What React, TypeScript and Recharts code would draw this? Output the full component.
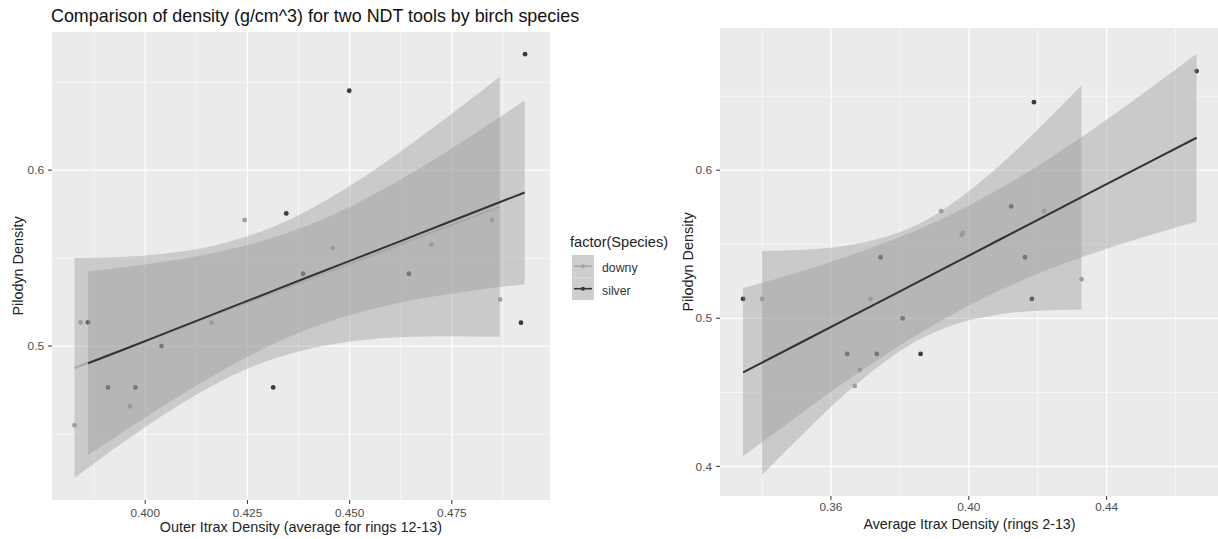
import React from 'react';
import { ComposedChart, Area, Line, Scatter, XAxis, YAxis, CartesianGrid } from 'recharts';

// ---------- Left panel: Outer Itrax density (rings 12-13) ----------
const outerDownyX = [0.3827, 0.3842, 0.3963, 0.4162, 0.4243, 0.4459, 0.47, 0.4848, 0.4868];
const outerDownyY = [0.455, 0.5135, 0.4657, 0.5133, 0.5716, 0.5557, 0.5576, 0.5716, 0.5265];
const outerSilverX = [0.386, 0.3909, 0.3976, 0.404, 0.4313, 0.4345, 0.4386, 0.4499, 0.4645, 0.4919, 0.4929];
const outerSilverY = [0.5135, 0.4765, 0.4765, 0.5, 0.4765, 0.5754, 0.5411, 0.6451, 0.5411, 0.5133, 0.6659];

const outerDownyBandX = [0.3827, 0.3949, 0.4071, 0.4192, 0.4285, 0.4375, 0.4497, 0.4618, 0.474, 0.4867];
const outerDownyFit = [0.4875, 0.4982, 0.509, 0.5197, 0.5278, 0.5357, 0.5464, 0.5573, 0.568, 0.5791];
const outerDownyUpper = [0.55, 0.5507, 0.5532, 0.5585, 0.5653, 0.5744, 0.5905, 0.6095, 0.6303, 0.653];
const outerDownyLower = [0.425, 0.4457, 0.4648, 0.4809, 0.4904, 0.4969, 0.5024, 0.505, 0.5056, 0.5053];

const outerSilverBandX = [0.386, 0.3949, 0.4071, 0.4192, 0.4314, 0.4394, 0.4497, 0.4618, 0.474, 0.4862, 0.4928];
const outerSilverFit = [0.4902, 0.4982, 0.5093, 0.5204, 0.5315, 0.5388, 0.5481, 0.5591, 0.5702, 0.5813, 0.5873];
const outerSilverUpper = [0.5424, 0.5448, 0.5488, 0.5541, 0.5617, 0.5683, 0.5788, 0.5938, 0.6109, 0.6293, 0.6396];
const outerSilverLower = [0.4379, 0.4516, 0.4699, 0.4866, 0.5013, 0.5092, 0.5174, 0.5245, 0.5295, 0.5334, 0.5351];

const outerXTicks = [0.4, 0.425, 0.45, 0.475];
const outerXMinor = [0.3875, 0.4125, 0.4375, 0.4625, 0.4875];
const outerYTicks = [0.5, 0.6];
const outerYMinor = [0.45, 0.55, 0.65];
const outerXDomain = [0.3772, 0.499];
const outerYDomain = [0.4125, 0.6785];

// ---------- Right panel: Average Itrax density (rings 2-13) ----------
const avgDownyX = [0.34, 0.3669, 0.3684, 0.3715, 0.392, 0.3979, 0.3983, 0.4218, 0.4327];
const avgDownyY = [0.5131, 0.4543, 0.4651, 0.5131, 0.5723, 0.5563, 0.5576, 0.5723, 0.5264];
const avgSilverX = [0.3345, 0.3647, 0.3733, 0.3744, 0.3808, 0.386, 0.4123, 0.4163, 0.4183, 0.4189, 0.4661];
const avgSilverY = [0.5131, 0.4759, 0.4759, 0.5412, 0.5, 0.4759, 0.5755, 0.5412, 0.5131, 0.6459, 0.6669];

const avgDownyBandX = [0.34, 0.351, 0.3655, 0.38, 0.3864, 0.3945, 0.409, 0.4235, 0.4327];
const avgDownyFit = [0.4699, 0.483, 0.5005, 0.518, 0.5257, 0.5355, 0.553, 0.5705, 0.5816];
const avgDownyUpper = [0.5455, 0.5461, 0.5494, 0.5582, 0.5649, 0.5764, 0.6034, 0.6355, 0.6573];
const avgDownyLower = [0.3942, 0.4199, 0.4517, 0.4778, 0.4866, 0.4947, 0.5027, 0.5055, 0.5059];

const avgSilverBandX = [0.3345, 0.351, 0.3655, 0.38, 0.3945, 0.4003, 0.409, 0.4235, 0.438, 0.4525, 0.4661];
const avgSilverFit = [0.4635, 0.4833, 0.5008, 0.5182, 0.5357, 0.5427, 0.5532, 0.5707, 0.5882, 0.6056, 0.6219];
const avgSilverUpper = [0.5203, 0.5314, 0.5424, 0.5549, 0.5698, 0.5765, 0.5876, 0.6081, 0.6309, 0.6551, 0.6786];
const avgSilverLower = [0.4068, 0.4352, 0.4593, 0.4816, 0.5017, 0.5089, 0.5189, 0.5332, 0.5455, 0.5561, 0.5651];

const avgXTicks = [0.36, 0.4, 0.44];
const avgXMinor = [0.34, 0.38, 0.42, 0.46];
const avgYTicks = [0.4, 0.5, 0.6];
const avgYMinor = [0.45, 0.55, 0.65];
const avgXDomain = [0.3278, 0.4726];
const avgYDomain = [0.38, 0.696];

const species = ['downy', 'silver'];

// ---------- styles ----------
const FONT = 'Liberation Sans, Arial, sans-serif';
const DOWNY_PT = '#a0a0a0';
const SILVER_PT = '#3c3c3c';
const DOWNY_LINE = '#a8a8a8';
const SILVER_LINE = '#333333';
const RIBBON = '#999999';

const pts = (xs: number[], ys: number[]) => xs.map((x, i) => ({ x, y: ys[i] }));
const band = (xs: number[], fit: number[], lo: number[], hi: number[]) =>
  xs.map((x, i) => ({ x, fit: fit[i], range: [lo[i], hi[i]] }));

const dot = (color: string) => (p: any) => (
  <circle cx={p.cx} cy={p.cy} r={2.4} fill={color} />
);

type PanelProps = {
  width: number;
  height: number;
  margin: { top: number; right: number; bottom: number; left: number };
  yAxisWidth: number;
  xAxisHeight: number;
  xTickMargin: number;
  xDomain: number[];
  yDomain: number[];
  xTicks: number[];
  xMinor: number[];
  yTicks: number[];
  yMinor: number[];
  xFmt: (v: number) => string;
  downyPts: { x: number; y: number }[];
  silverPts: { x: number; y: number }[];
  downyBand: any[];
  silverBand: any[];
};

function Panel(p: PanelProps) {
  const tickStyle = { fill: '#4d4d4d', fontSize: 11.8, fontFamily: FONT };
  return (
    <ComposedChart width={p.width} height={p.height} margin={p.margin}>
      <CartesianGrid
        fill="#EBEBEB"
        stroke="#FFFFFF"
        strokeWidth={0.6}
        horizontalValues={p.yMinor}
        verticalValues={p.xMinor}
      />
      <CartesianGrid
        stroke="#FFFFFF"
        strokeWidth={1.2}
        horizontalValues={p.yTicks}
        verticalValues={p.xTicks}
      />
      <XAxis
        type="number"
        dataKey="x"
        domain={p.xDomain}
        ticks={p.xTicks}
        allowDataOverflow
        height={p.xAxisHeight}
        axisLine={false}
        tickLine={{ stroke: '#333333' }}
        tickSize={4}
        tickMargin={p.xTickMargin}
        tick={tickStyle}
        tickFormatter={p.xFmt}
        interval={0}
      />
      <YAxis
        type="number"
        domain={p.yDomain}
        ticks={p.yTicks}
        allowDataOverflow
        width={p.yAxisWidth}
        axisLine={false}
        tickLine={{ stroke: '#333333' }}
        tickSize={4}
        tickMargin={4}
        tick={tickStyle}
        tickFormatter={(v: number) => v.toFixed(1)}
        interval={0}
      />
      <Scatter data={p.downyPts} dataKey="y" shape={dot(DOWNY_PT)} isAnimationActive={false} zIndex={50} />
      <Scatter data={p.silverPts} dataKey="y" shape={dot(SILVER_PT)} isAnimationActive={false} zIndex={50} />
      <Area
        data={p.downyBand}
        dataKey="range"
        type="monotone"
        stroke="none"
        fill={RIBBON}
        fillOpacity={0.4}
        isAnimationActive={false}
        dot={false}
        activeDot={false}
        zIndex={100}
      />
      <Area
        data={p.silverBand}
        dataKey="range"
        type="monotone"
        stroke="none"
        fill={RIBBON}
        fillOpacity={0.4}
        isAnimationActive={false}
        dot={false}
        activeDot={false}
        zIndex={100}
      />
      <Line
        data={p.downyBand}
        dataKey="fit"
        type="linear"
        stroke={DOWNY_LINE}
        strokeWidth={2}
        dot={false}
        activeDot={false}
        isAnimationActive={false}
        zIndex={400}
      />
      <Line
        data={p.silverBand}
        dataKey="fit"
        type="linear"
        stroke={SILVER_LINE}
        strokeWidth={2}
        dot={false}
        activeDot={false}
        isAnimationActive={false}
        zIndex={400}
      />
    </ComposedChart>
  );
}

export default function App() {
  return (
    <div
      style={{
        position: 'absolute',
        left: 0,
        top: 0,
        width: 1218,
        height: 539,
        overflow: 'hidden',
        background: '#FFFFFF',
        fontFamily: FONT,
      }}
    >
      <div style={{ position: 'absolute', left: 0, top: 0 }}>
        <Panel
          width={560}
          height={539}
          margin={{ top: 32, right: 10, bottom: 0, left: 0 }}
          yAxisWidth={52}
          xAxisHeight={39}
          xTickMargin={5}
          xDomain={outerXDomain}
          yDomain={outerYDomain}
          xTicks={outerXTicks}
          xMinor={outerXMinor}
          yTicks={outerYTicks}
          yMinor={outerYMinor}
          xFmt={(v: number) => v.toFixed(3)}
          downyPts={pts(outerDownyX, outerDownyY)}
          silverPts={pts(outerSilverX, outerSilverY)}
          downyBand={band(outerDownyBandX, outerDownyFit, outerDownyLower, outerDownyUpper)}
          silverBand={band(outerSilverBandX, outerSilverFit, outerSilverLower, outerSilverUpper)}
        />
      </div>
      <div style={{ position: 'absolute', left: 640, top: 0 }}>
        <Panel
          width={580}
          height={539}
          margin={{ top: 28, right: 1, bottom: 0, left: 0 }}
          yAxisWidth={80}
          xAxisHeight={43}
          xTickMargin={3}
          xDomain={avgXDomain}
          yDomain={avgYDomain}
          xTicks={avgXTicks}
          xMinor={avgXMinor}
          yTicks={avgYTicks}
          yMinor={avgYMinor}
          xFmt={(v: number) => v.toFixed(2)}
          downyPts={pts(avgDownyX, avgDownyY)}
          silverPts={pts(avgSilverX, avgSilverY)}
          downyBand={band(avgDownyBandX, avgDownyFit, avgDownyLower, avgDownyUpper)}
          silverBand={band(avgSilverBandX, avgSilverFit, avgSilverLower, avgSilverUpper)}
        />
      </div>
      <svg
        width={1218}
        height={539}
        style={{ position: 'absolute', left: 0, top: 0, pointerEvents: 'none' }}
        fontFamily={FONT}
      >
        <text x={51} y={22} fontSize={17.9} fill="#111111">
          Comparison of density (g/cm^3) for two NDT tools by birch species
        </text>
        <text x={301} y={532} fontSize={14.4} fill="#222222" textAnchor="middle">
          Outer Itrax Density (average for rings 12-13)
        </text>
        <text x={969.5} y={529} fontSize={14.2} fill="#222222" textAnchor="middle">
          Average Itrax Density (rings 2-13)
        </text>
        <text transform="translate(23,266) rotate(-90)" fontSize={14.4} fill="#222222" textAnchor="middle">
          Pilodyn Density
        </text>
        <text transform="translate(693,262) rotate(-90)" fontSize={14.4} fill="#222222" textAnchor="middle">
          Pilodyn Density
        </text>
        {/* legend */}
        <text x={570} y={247} fontSize={14.6} fill="#222222">
          factor(Species)
        </text>
        <rect x={572} y={255} width={22} height={22.5} fill="#F2F2F2" />
        <rect x={572} y={255} width={22} height={22.5} fill={RIBBON} fillOpacity={0.4} />
        <rect x={572} y={277.5} width={22} height={22.5} fill="#F2F2F2" />
        <rect x={572} y={277.5} width={22} height={22.5} fill={RIBBON} fillOpacity={0.4} />
        <line x1={574} x2={592} y1={266.2} y2={266.2} stroke={DOWNY_LINE} strokeWidth={1.6} />
        <circle cx={583} cy={266.2} r={2} fill={DOWNY_PT} />
        <line x1={574} x2={592} y1={288.7} y2={288.7} stroke={SILVER_LINE} strokeWidth={1.6} />
        <circle cx={583} cy={288.7} r={2} fill={SILVER_PT} />
        <text x={602} y={272} fontSize={12.3} fill="#333333">
          {species[0]}
        </text>
        <text x={602} y={295} fontSize={12.3} fill="#333333">
          {species[1]}
        </text>
      </svg>
    </div>
  );
}
